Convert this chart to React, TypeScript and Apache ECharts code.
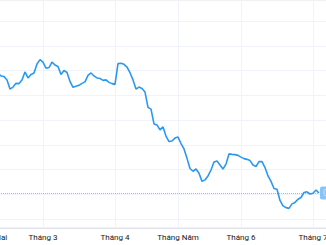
import React, { useEffect, useRef } from "react";
import * as echarts from "echarts";

const monthStartIdx = [0, 18, 42, 63, 84, 108];
const monthLabels = ["Tháng Hai", "Tháng 3", "Tháng 4", "Tháng Năm", "Tháng 6", "Tháng 7"];
const totalSlots = 116;

const prices = [
  0.6586, 0.6594, 0.6582, 0.659, 0.6578, 0.6576, 0.6562, 0.6525, 0.6533, 0.6548,
  0.6547, 0.6562, 0.6594, 0.657, 0.6584, 0.659, 0.6626, 0.6644, 0.6634, 0.6609,
  0.6612, 0.6634, 0.6622, 0.6616, 0.6584, 0.66, 0.6592, 0.6556, 0.6532, 0.6536,
  0.654, 0.6548, 0.6554, 0.658, 0.659, 0.6578, 0.657, 0.6568, 0.656, 0.6562,
  0.6552, 0.6547, 0.6544, 0.6628, 0.6629, 0.6625, 0.6614, 0.6591, 0.6562, 0.6525,
  0.6533, 0.6527, 0.6513, 0.6451, 0.6444, 0.6384, 0.638, 0.636, 0.6372, 0.6335,
  0.6313, 0.6315, 0.6327, 0.6331, 0.6305, 0.6283, 0.6245, 0.6204, 0.6193, 0.6202,
  0.6185, 0.6152, 0.6158, 0.6174, 0.6198, 0.623, 0.6234, 0.6218, 0.6202, 0.6222,
  0.6263, 0.6261, 0.626, 0.6257, 0.625, 0.6244, 0.6241, 0.6236, 0.6218, 0.6212,
  0.6232, 0.6232, 0.6208, 0.6174, 0.6152, 0.6123, 0.612, 0.6075, 0.6053, 0.6046,
  0.6043, 0.6061, 0.6067, 0.608, 0.6087, 0.6107, 0.611, 0.6101, 0.6104, 0.6117,
  0.6105,
];

const gridValues = [0.6, 0.61, 0.62, 0.63, 0.64, 0.65, 0.66, 0.67, 0.68];
const yMin = 0.596364;
const yMax = 0.688485;

const categories = Array.from({ length: totalSlots }, (_, i) => String(i));
const lastIdx = prices.length - 1;
const lastPrice = prices[lastIdx];

export default function App() {
  const ref = useRef<HTMLDivElement>(null);
  useEffect(() => {
    if (!ref.current) return;
    const chart = echarts.init(ref.current, null, { renderer: "svg" });
    chart.setOption({
      animation: false,
      grid: {
        left: 50,
        right: 5,
        top: 0,
        bottom: 17,
        show: true,
        borderColor: "#e0e3eb",
        borderWidth: 1,
      },
      xAxis: {
        type: "category",
        data: categories,
        boundaryGap: false,
        axisLine: { show: true, lineStyle: { color: "#e0e3eb" } },
        axisTick: { show: false },
        axisLabel: {
          interval: (i: number) => monthStartIdx.includes(i),
          formatter: (_v: string, i: number) => {
            const k = monthStartIdx.indexOf(i);
            return k >= 0 ? monthLabels[k] : "";
          },
          color: "#131722",
          fontSize: 8,
          fontFamily: "Roboto, sans-serif",
          margin: 5,
        },
        splitLine: {
          show: true,
          interval: (i: number) => monthStartIdx.includes(i),
          lineStyle: { color: "#f0f3fa", width: 1 },
        },
      },
      yAxis: {
        type: "value",
        position: "right",
        min: yMin,
        max: yMax,
        axisLine: { show: false },
        axisTick: { show: false, customValues: gridValues },
        axisLabel: { show: false },
        splitLine: { show: true, lineStyle: { color: "#f0f3fa", width: 1 } },
      },
      series: [
        {
          type: "line",
          data: prices,
          showSymbol: false,
          lineStyle: { color: "#2b98f0", width: 1.6 },
          itemStyle: { color: "#2b98f0" },
          markLine: {
            silent: true,
            symbol: ["none", "none"],
            lineStyle: { type: [1, 1], color: "#2196f3", width: 1, opacity: 0.55 },
            label: {
              show: true,
              position: "end",
              distance: 1,
              formatter: lastPrice.toFixed(4),
              color: "#ffffff",
              backgroundColor: "#2196f3",
              fontSize: 9,
              fontFamily: "Roboto, sans-serif",
              padding: [2, 3],
              borderRadius: 2,
            },
            data: [
              [
                { xAxis: 0, yAxis: lastPrice },
                { xAxis: lastIdx, yAxis: lastPrice },
              ],
            ],
          },
        },
      ],
    });
    return () => chart.dispose();
  }, []);
  return (
    <div
      ref={ref}
      style={{ position: "fixed", left: -61, top: 0, width: 400, height: 245, background: "#ffffff" }}
    />
  );
}
